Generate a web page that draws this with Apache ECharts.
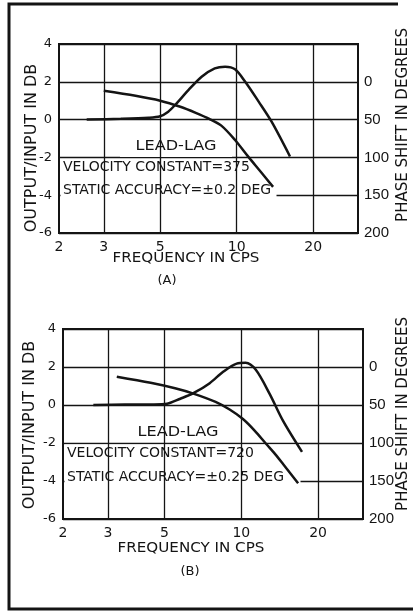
<!DOCTYPE html>
<html>
<head>
<meta charset="utf-8">
<script src="https://cdn.jsdelivr.net/npm/echarts@6/dist/echarts.min.js"></script>
<style>
  html, body { margin: 0; padding: 0; background: #fff; }
  #chart { width: 413px; height: 614px; }
</style>
</head>
<body>
<div id="chart"></div>
<script>
// Frequency axis labels and the vertical grid lines (cps, log scale)
const freqTicks = [2, 3, 5, 10, 20];
const freqGrid = [3, 5, 10, 20];

// (A) velocity constant 375 — gain curve (dB) and phase curve (degrees)
const gainA_f  = [2.57, 3.5, 4.5, 5.0, 5.38, 5.72, 6.47, 7.28, 8.2, 9.0, 9.85, 10.8, 12.2, 13.7, 16.2];
const gainA_db = [0, 0.04, 0.1, 0.18, 0.42, 0.77, 1.57, 2.27, 2.71, 2.8, 2.66, 2.0, 0.95, -0.1, -1.95];
const phaseA_f   = [3.0, 4.0, 5.0, 6.0, 6.9, 7.8, 8.7, 9.85, 11.1, 12.5, 13.9];
const phaseA_deg = [11.8, 18.5, 25, 33, 41, 49, 58, 77, 99, 120, 139];

// (B) velocity constant 720
const gainB_f  = [2.63, 3.5, 4.41, 5.12, 5.77, 6.49, 7.52, 8.49, 9.59, 10.4, 11.4, 12.9, 14.6, 17.3];
const gainB_db = [0, 0.02, 0.03, 0.07, 0.33, 0.62, 1.15, 1.75, 2.18, 2.22, 1.85, 0.6, -0.85, -2.47];
const phaseB_f   = [3.25, 4.41, 5.5, 6.49, 7.93, 9.0, 10.15, 11.3, 12.5, 13.6, 14.6, 16.7];
const phaseB_deg = [12.8, 20.8, 28, 35, 46, 56, 68.5, 84, 101, 115, 128, 153];

const zip = (xs, ys) => xs.map((x, i) => [x, ys[i]]);

const INK = '#141414';
const FONT = 'DejaVu Sans';
const NUM_FONT = 'Liberation Sans';

const panels = [
  { left: 59, top: 44, width: 299, height: 189 },
  { left: 63, top: 329, width: 300, height: 190 }
];

const chart = echarts.init(document.getElementById('chart'), null, { renderer: 'canvas' });

const grid = panels.map(p => ({
  left: p.left, top: p.top, width: p.width, height: p.height,
  show: true, borderColor: INK, borderWidth: 2, backgroundColor: 'transparent'
}));

const xAxis = panels.map((p, i) => ({
  type: 'log', gridIndex: i, min: 2, max: 30, logBase: 10,
  axisLine: { show: false }, axisTick: { show: false },
  splitLine: { show: false }, minorSplitLine: { show: false },
  axisLabel: {
    customValues: freqTicks, margin: 7, color: INK,
    fontSize: 14, fontFamily: FONT
  }
}));

const yAxis = [];
panels.forEach((p, i) => {
  yAxis.push({
    type: 'value', gridIndex: i, min: -6, max: 4, interval: 2,
    axisLine: { show: false }, axisTick: { show: false },
    splitLine: { show: true, lineStyle: { color: INK, width: 1.3 } },
    axisLabel: { margin: 7, color: INK, fontSize: 13, fontFamily: FONT }
  });
  yAxis.push({
    type: 'value', gridIndex: i, position: 'right', min: -50, max: 200, interval: 50,
    inverse: true,
    axisLine: { show: false }, axisTick: { show: false }, splitLine: { show: false },
    axisLabel: {
      margin: 6, color: INK, fontSize: 15, fontFamily: NUM_FONT,
      formatter: v => (v < 0 ? '' : String(v))
    }
  });
});

const curve = (data, xi, yi) => ({
  type: 'line', xAxisIndex: xi, yAxisIndex: yi, data,
  showSymbol: false, smooth: 0.3, z: 10, silent: true,
  lineStyle: { color: INK, width: 2.5 }
});

const gridLines = (xi) => ({
  type: 'line', xAxisIndex: xi, yAxisIndex: xi * 2, data: [], z: 1, silent: true,
  markLine: {
    silent: true, symbol: ['none', 'none'], animation: false,
    label: { show: false },
    lineStyle: { color: INK, width: 1.3, type: 'solid' },
    data: freqGrid.map(v => ({ xAxis: v }))
  }
});

const series = [
  gridLines(0), gridLines(1),
  curve(zip(gainA_f, gainA_db), 0, 0),
  curve(zip(phaseA_f, phaseA_deg), 0, 1),
  curve(zip(gainB_f, gainB_db), 1, 2),
  curve(zip(phaseB_f, phaseB_deg), 1, 3)
];

// Text placed at (x, y); extra transform (scale / rotation) is applied about that point.
const txt = (x, y, text, size, opts) => Object.assign({
  type: 'text', x, y, z: 20, silent: true,
  style: {
    text, fill: INK, font: size + 'px "' + FONT + '"',
    textAlign: (opts && opts.align) || 'left', textVerticalAlign: 'middle'
  }
}, opts && opts.extra ? opts.extra : {});

const whiteRect = (x, y, w, h) => ({
  type: 'rect', z: 5, silent: true,
  shape: { x, y, width: w, height: h },
  style: { fill: '#fff' }
});

const graphic = [
  // outer frame
  { type: 'polyline', z: 20, silent: true,
    shape: { points: [[398, 4], [9, 4], [9, 609], [413, 609]] },
    style: { stroke: INK, lineWidth: 3, fill: null } },

  // panel A notes
  whiteRect(120, 133, 112, 24),
  whiteRect(60.5, 159, 216, 38),
  txt(176, 146, 'LEAD-LAG', 14, { align: 'center', extra: { scaleX: 1.15 } }),
  txt(63, 167, 'VELOCITY CONSTANT=375', 14),
  txt(63, 190, 'STATIC ACCURACY=±0.2 DEG', 14),
  txt(186, 258, 'FREQUENCY IN CPS', 14, { align: 'center', extra: { scaleX: 1.08 } }),
  txt(167, 281, '(A)', 13, { align: 'center' }),
  txt(32, 148, 'OUTPUT/INPUT IN DB', 16, { align: 'center', extra: { rotation: Math.PI / 2 } }),
  txt(403, 125, 'PHASE SHIFT IN DEGREES', 15, { align: 'center', extra: { rotation: Math.PI / 2 } }),

  // panel B notes
  whiteRect(125, 420, 107, 22),
  whiteRect(64.5, 444.5, 236, 40),
  txt(178, 432, 'LEAD-LAG', 14, { align: 'center', extra: { scaleX: 1.15 } }),
  txt(67, 453, 'VELOCITY CONSTANT=720', 14),
  txt(67, 477, 'STATIC ACCURACY=±0.25 DEG', 14),
  txt(191, 548, 'FREQUENCY IN CPS', 14, { align: 'center', extra: { scaleX: 1.08 } }),
  txt(190, 572, '(B)', 13, { align: 'center' }),
  txt(30, 425, 'OUTPUT/INPUT IN DB', 16, { align: 'center', extra: { rotation: Math.PI / 2 } }),
  txt(403, 414, 'PHASE SHIFT IN DEGREES', 15, { align: 'center', extra: { rotation: Math.PI / 2 } })
];

chart.setOption({
  animation: false,
  backgroundColor: '#fff',
  grid, xAxis, yAxis, series, graphic
});
</script>
</body>
</html>
